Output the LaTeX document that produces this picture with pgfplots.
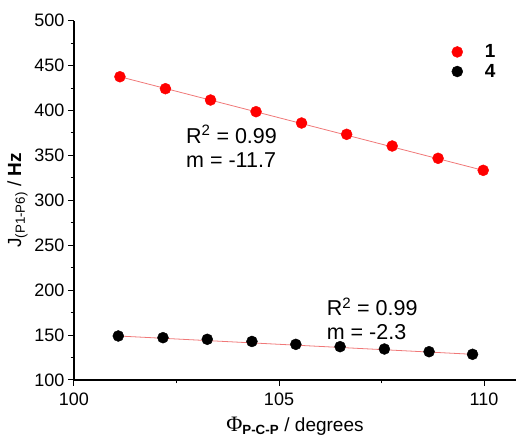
\documentclass[border=0pt]{standalone}
\usepackage{pgfplots}
\pgfplotsset{compat=1.18}
\usepackage{fontspec}
\setmainfont{Liberation Sans}
\newfontfamily\serif{Liberation Serif}
\definecolor{fitred}{RGB}{240,120,120}

\begin{document}
\begin{tikzpicture}
    \begin{axis}[
        name=ax,
        scale only axis,
        width=442pt, height=359.3pt,
        xmin=100, xmax=110.78,
        ymin=100, ymax=500,
        axis lines=left,
        axis line style={-, line width=1.4pt},
        xtick={100,105,110},
        minor xtick={102.5,107.5},
        ytick={100,150,...,500},
        minor ytick={125,175,...,475},
        tick align=outside,
        major tick length=6pt,
        minor tick length=3.5pt,
        every tick/.style={line width=1pt, black},
        /pgf/number format/assume math mode=true,
        ticklabel style={font=\fontsize{18}{18}\selectfont},
        xticklabel style={yshift=-3pt},
        xlabel={{\serif\fontsize{22}{22}\selectfont Φ}\textsubscript{\textbf{P-C-P}} / degrees},
        ylabel={J\textsubscript{(P1-P6)} / \textbf{Hz}},
        label style={font=\fontsize{19}{19}\selectfont},
        xlabel style={yshift=-5pt},
        legend style={draw=none, fill=none, at={(0.965,0.945)}, anchor=north east,
            font=\fontsize{19}{19}\selectfont\bfseries, row sep=1pt,
            /tikz/every odd column/.append style={column sep=20pt}},
        legend image code/.code={\draw[#1] plot coordinates {(0pt,0pt)};},
        legend cell align=left,
    ]

    % linear fits
    \addplot[fitred, line width=0.8pt, forget plot] coordinates {
        (101.12, 437.6) (109.98, 333.4)
    };
    \addplot[fitred, line width=0.8pt, forget plot] coordinates {
        (101.08, 149.0) (109.72, 128.6)
    };

    \addplot[only marks, mark=*, mark size=5.5pt, red, mark options={draw=red, fill=red}] coordinates {
        (101.12, 437.6) (102.23, 424.3) (103.33, 411.7) (104.44, 398.7) (105.55, 386.1)
        (106.65, 373.5) (107.76, 360.5) (108.88, 346.8) (109.98, 333.4)
    };
    \addlegendentry{1}

    \addplot[only marks, mark=*, mark size=5.5pt, black] coordinates {
        (101.08, 149.0) (102.17, 147.1) (103.25, 145.3) (104.34, 142.9) (105.41, 139.7)
        (106.49, 137.1) (107.57, 134.5) (108.66, 131.5) (109.72, 128.6)
    };
    \addlegendentry{4}

    \node[anchor=west, align=left, font=\fontsize{21.5}{24}\selectfont, inner sep=0pt]
        at (axis cs:102.73, 360) {R\textsuperscript{2} = 0.99\\m = -11.7};
    \node[anchor=west, align=left, font=\fontsize{21.5}{24}\selectfont, inner sep=0pt]
        at (axis cs:106.16, 168) {R\textsuperscript{2} = 0.99\\m = -2.3};
    \end{axis}
    \pgfresetboundingbox
    \path ([shift={(-74pt,-62pt)}]ax.south west) rectangle ([shift={(0pt,20.7pt)}]ax.north east);
\end{tikzpicture}
\end{document}
